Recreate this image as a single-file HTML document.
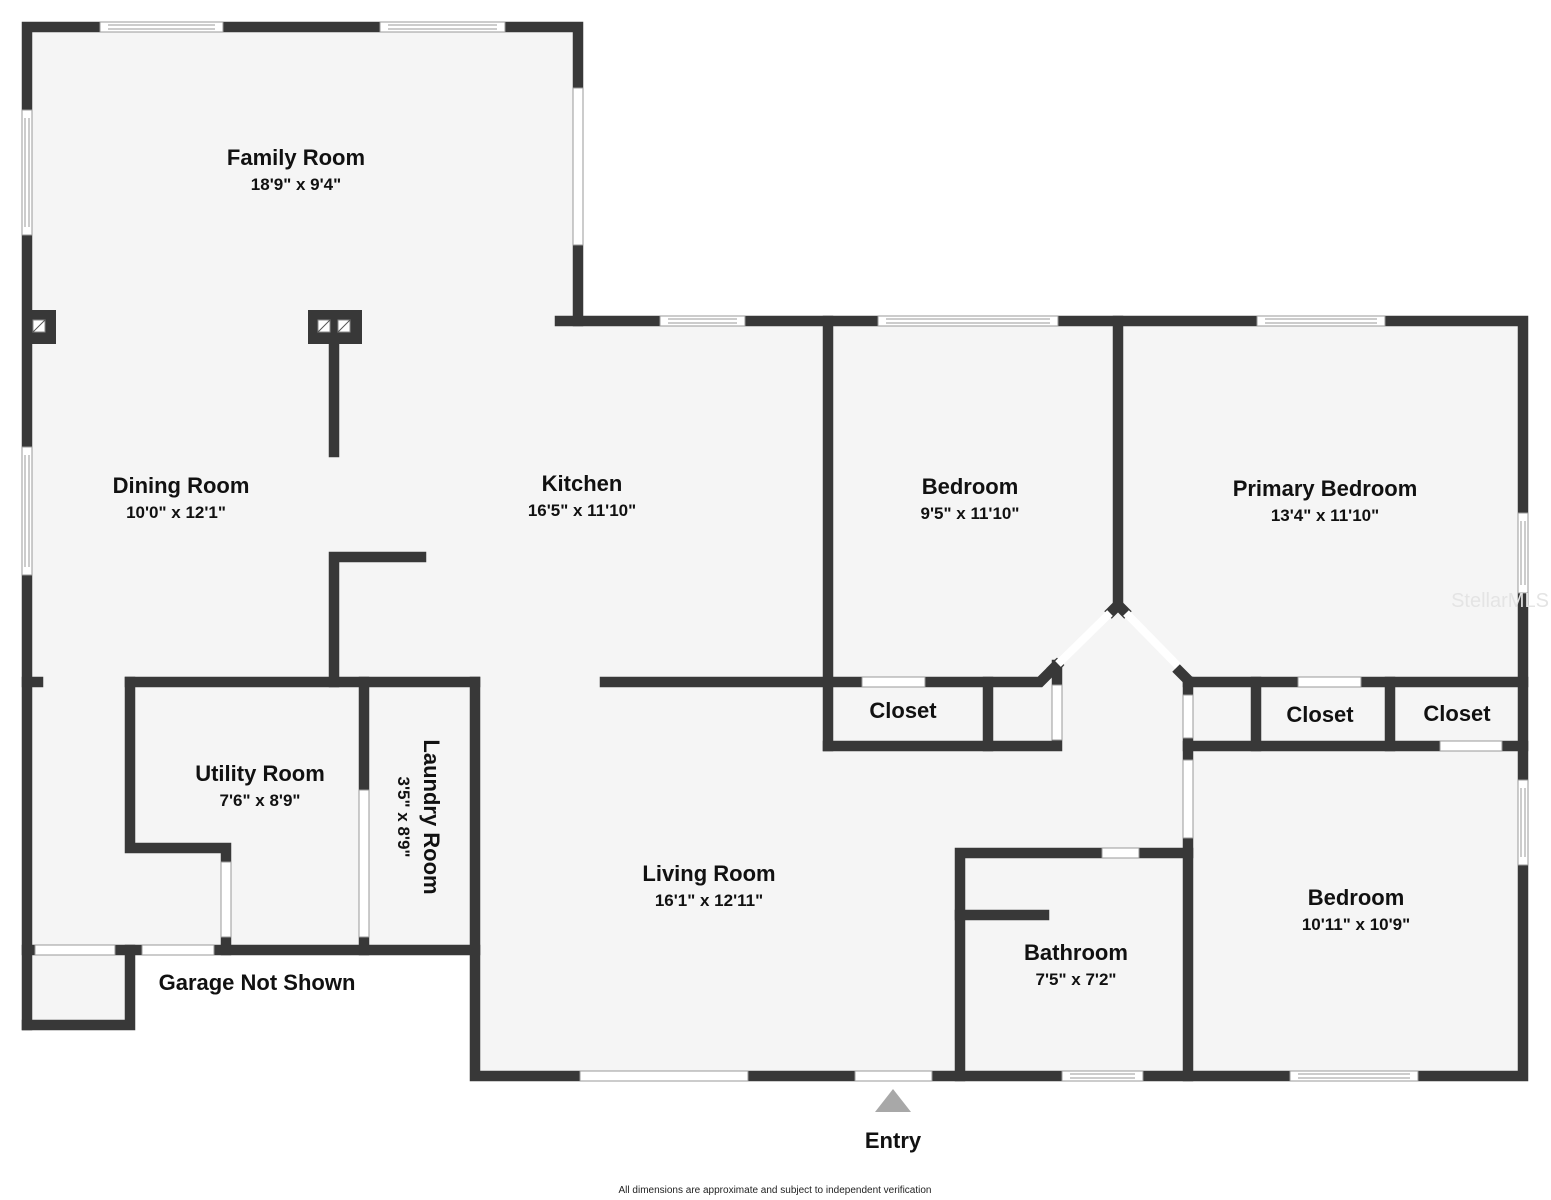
<!DOCTYPE html>
<html><head><meta charset="utf-8"><style>
html,body{margin:0;padding:0;background:#fff;width:1551px;height:1200px;overflow:hidden}
svg{display:block}
.n{font-family:"Liberation Sans",sans-serif;font-weight:bold;font-size:22px;fill:#111;text-anchor:middle}
.d{font-family:"Liberation Sans",sans-serif;font-weight:bold;font-size:17px;fill:#111;text-anchor:middle}
</style></head><body>
<svg width="1551" height="1200" viewBox="0 0 1551 1200" xmlns="http://www.w3.org/2000/svg">
<polygon fill="#f5f5f5" points="27,27 578,27 578,321 1523,321 1523,1076 475,1076 475,950 130,950 130,1025 27,1025"/>
<g stroke="#383838" stroke-width="10.5" stroke-linecap="square" fill="none">
<polyline points="27,1025 27,27 578,27 578,321"/>
<polyline points="560,321 1523,321 1523,1076 475,1076 475,682"/>
<polyline points="27,950 475,950"/>
<polyline points="27,1025 130,1025 130,950"/>
<polyline points="130,682 475,682"/>
<polyline points="130,682 130,848 226,848 226,950"/>
<line x1="364" y1="682" x2="364" y2="950"/>
<line x1="27" y1="682" x2="38" y2="682"/>
<line x1="334" y1="343" x2="334" y2="452"/>
<polyline points="334,682 334,557 421,557"/>
<polyline points="605,682 1040,682 1057,665"/>
<line x1="828" y1="321" x2="828" y2="746"/>
<polyline points="828,746 1057,746 1057,665"/>
<line x1="988" y1="682" x2="988" y2="746"/>
<line x1="1118" y1="321" x2="1118" y2="607"/>
<polyline points="1188,682 1523,682"/>
<polyline points="1188,746 1523,746"/>
<line x1="1188" y1="682" x2="1188" y2="1076"/>
<line x1="1256" y1="682" x2="1256" y2="746"/>
<line x1="1390" y1="682" x2="1390" y2="746"/>
<polyline points="960,1076 960,853 1188,853"/>
<line x1="960" y1="915" x2="1044" y2="915"/>
</g>
<g stroke="#383838" stroke-width="10.5" fill="none">
<line x1="1118" y1="605" x2="1108" y2="615"/>
<line x1="1118" y1="605" x2="1128" y2="615"/>
<line x1="1050" y1="672" x2="1060" y2="662"/>
<line x1="1176" y1="668" x2="1190" y2="682"/>
</g>
<g stroke="#fff" stroke-width="8">
<line x1="1110" y1="613" x2="1058" y2="664"/>
<line x1="1126" y1="613" x2="1178" y2="666"/>
</g>
<rect x="22" y="310" width="34" height="34" fill="#383838"/>
<rect x="308" y="310" width="54" height="34" fill="#383838"/>
<g fill="#fff" stroke="#888" stroke-width="1">
<rect x="33" y="320" width="12" height="12"/><rect x="318" y="320" width="12" height="12"/><rect x="338" y="320" width="12" height="12"/>
</g>
<g stroke="#555" stroke-width="1"><line x1="33" y1="332" x2="45" y2="320"/><line x1="318" y1="332" x2="330" y2="320"/><line x1="338" y1="332" x2="350" y2="320"/></g>
<g fill="#fff" stroke="#999" stroke-width="1">
<rect x="100" y="22" width="123" height="10"/><rect x="380" y="22" width="125" height="10"/>
<rect x="660" y="316" width="85" height="10"/><rect x="878" y="316" width="180" height="10"/><rect x="1257" y="316" width="128" height="10"/>
<rect x="1062" y="1071" width="81" height="10"/><rect x="1290" y="1071" width="128" height="10"/>
<rect x="22" y="110" width="10" height="125"/><rect x="22" y="447" width="10" height="128"/>
<rect x="1518" y="513" width="10" height="80"/><rect x="1518" y="780" width="10" height="85"/>
<rect x="573" y="88" width="10" height="157"/>
<rect x="580" y="1071" width="168" height="10"/><rect x="855" y="1071" width="77" height="10"/>
<rect x="35" y="945" width="80" height="10"/><rect x="142" y="945" width="72" height="10"/>
<rect x="221" y="862" width="10" height="75"/><rect x="359" y="790" width="10" height="147"/>
<rect x="862" y="677" width="63" height="10"/><rect x="1052" y="685" width="10" height="55"/>
<rect x="1298" y="677" width="63" height="10"/><rect x="1440" y="741" width="62" height="10"/>
<rect x="1183" y="695" width="10" height="43"/><rect x="1183" y="760" width="10" height="78"/>
<rect x="1102" y="848" width="37" height="10"/>
</g>
<g stroke="#999" stroke-width="1">
<line x1="108" y1="25" x2="215" y2="25"/><line x1="108" y1="29" x2="215" y2="29"/>
<line x1="388" y1="25" x2="497" y2="25"/><line x1="388" y1="29" x2="497" y2="29"/>
<line x1="668" y1="319" x2="737" y2="319"/><line x1="668" y1="323" x2="737" y2="323"/>
<line x1="886" y1="319" x2="1050" y2="319"/><line x1="886" y1="323" x2="1050" y2="323"/>
<line x1="1265" y1="319" x2="1377" y2="319"/><line x1="1265" y1="323" x2="1377" y2="323"/>
<line x1="1070" y1="1074" x2="1135" y2="1074"/><line x1="1070" y1="1078" x2="1135" y2="1078"/>
<line x1="1298" y1="1074" x2="1410" y2="1074"/><line x1="1298" y1="1078" x2="1410" y2="1078"/>
<line x1="25" y1="118" x2="25" y2="227"/><line x1="29" y1="118" x2="29" y2="227"/>
<line x1="25" y1="455" x2="25" y2="567"/><line x1="29" y1="455" x2="29" y2="567"/>
<line x1="1521" y1="521" x2="1521" y2="585"/><line x1="1525" y1="521" x2="1525" y2="585"/>
<line x1="1521" y1="788" x2="1521" y2="857"/><line x1="1525" y1="788" x2="1525" y2="857"/>
</g>
<polygon points="893,1089 875,1112 911,1112" fill="#a8a8a8"/>
<text class="n" x="296" y="165">Family Room</text><text class="d" x="296" y="190">18'9" x 9'4"</text>
<text class="n" x="181" y="493">Dining Room</text><text class="d" x="176" y="518">10'0" x 12'1"</text>
<text class="n" x="582" y="491">Kitchen</text><text class="d" x="582" y="516">16'5" x 11'10"</text>
<text class="n" x="970" y="494">Bedroom</text><text class="d" x="970" y="519">9'5" x 11'10"</text>
<text class="n" x="1325" y="496">Primary Bedroom</text><text class="d" x="1325" y="521">13'4" x 11'10"</text>
<text class="n" x="903" y="718">Closet</text>
<text class="n" x="1320" y="722">Closet</text>
<text class="n" x="1457" y="721">Closet</text>
<text class="n" x="260" y="781">Utility Room</text><text class="d" x="260" y="806">7'6" x 8'9"</text>
<g transform="translate(425,817) rotate(90)"><text class="n" x="0" y="1">Laundry Room</text><text class="d" x="0" y="27">3'5" x 8'9"</text></g>
<text class="n" x="257" y="990">Garage Not Shown</text>
<text class="n" x="709" y="881">Living Room</text><text class="d" x="709" y="906">16'1" x 12'11"</text>
<text class="n" x="1076" y="960">Bathroom</text><text class="d" x="1076" y="985">7'5" x 7'2"</text>
<text class="n" x="1356" y="905">Bedroom</text><text class="d" x="1356" y="930">10'11" x 10'9"</text>
<text class="n" x="893" y="1148">Entry</text>
<text x="775" y="1193" style="font-family:'Liberation Sans',sans-serif;font-size:10px;fill:#222;text-anchor:middle">All dimensions are approximate and subject to independent verification</text>
<text x="1500" y="607" style="font-family:'Liberation Sans',sans-serif;font-size:20px;fill:#e4e4e4;text-anchor:middle">StellarMLS</text>
</svg>
</body></html>
